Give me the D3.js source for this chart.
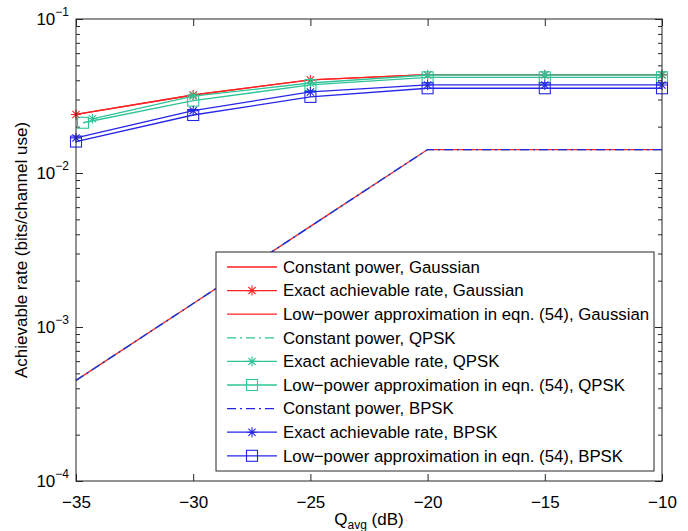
<!DOCTYPE html>
<html><head><meta charset="utf-8">
<script src="https://cdn.jsdelivr.net/npm/d3@7"></script>
<style>
html,body{margin:0;padding:0;background:#fff;}
svg{display:block;font-family:"Liberation Sans",Arial,Helvetica,sans-serif;}
</style></head>
<body><svg id="chart" width="688" height="531"></svg>
<script>
// ---- data ----
const qAvg = [-35, -30, -25, -20, -15, -10];
const qAvgQpskExact = [-34.3, -30, -25, -20, -15, -10];
const qAvgQpskApprox = [-34.7, -30, -25, -20, -15, -10];
const constGauss  = [0.00045, 0.00142, 0.0045, 0.0142, 0.0142, 0.0142];
const exactGauss  = [0.0240, 0.0321, 0.0402, 0.0435, 0.0435, 0.0435];
const approxGauss = [0.0240, 0.0321, 0.0402, 0.0435, 0.0435, 0.0435];
const constQpsk   = [0.00045, 0.00142, 0.0045, 0.0142, 0.0142, 0.0142];
const exactQpsk   = [0.0225, 0.0316, 0.0384, 0.0433, 0.0433, 0.0433];
const approxQpsk  = [0.0212, 0.0295, 0.0373, 0.0418, 0.0418, 0.0418];
const constBpsk   = [0.00045, 0.00142, 0.0045, 0.0142, 0.0142, 0.0142];
const exactBpsk   = [0.0169, 0.0254, 0.0336, 0.0373, 0.0373, 0.0373];
const approxBpsk  = [0.0160, 0.0238, 0.0312, 0.0355, 0.0355, 0.0355];
const xTicks = [-35, -30, -25, -20, -15, -10];
const yTicks = [1e-4, 1e-3, 1e-2, 1e-1];
const yTickExponents = ["\u22124", "\u22123", "\u22122", "\u22121"];
const legendLabels = [
  "Constant power, Gaussian",
  "Exact achievable rate, Gaussian",
  "Low\u2212power approximation in eqn. (54), Gaussian",
  "Constant power, QPSK",
  "Exact achievable rate, QPSK",
  "Low\u2212power approximation in eqn. (54), QPSK",
  "Constant power, BPSK",
  "Exact achievable rate, BPSK",
  "Low\u2212power approximation in eqn. (54), BPSK"
];

// ---- styles ----
const RED = "#ff2222", GREEN = "#2ec497", BLUE = "#2626e8";
const DASHDOT = "9,4,2,4";
const series = [
  {xs: qAvg, ys: constGauss, color: RED, dash: null, marker: null},
  {xs: qAvg, ys: exactGauss, color: RED, dash: null, marker: "star"},
  {xs: qAvg, ys: approxGauss, color: RED, dash: null, marker: null},
  {xs: qAvg, ys: constQpsk, color: GREEN, dash: DASHDOT, marker: null},
  {xs: qAvgQpskExact, ys: exactQpsk, color: GREEN, dash: null, marker: "star"},
  {xs: qAvgQpskApprox, ys: approxQpsk, color: GREEN, dash: null, marker: "square"},
  {xs: qAvg, ys: constBpsk, color: BLUE, dash: DASHDOT, marker: null},
  {xs: qAvg, ys: exactBpsk, color: BLUE, dash: null, marker: "star"},
  {xs: qAvg, ys: approxBpsk, color: BLUE, dash: null, marker: "square"}
];

const L = 76, R = 662, T = 19, B = 481;
const svg = d3.select("#chart");
svg.append("rect").attr("width", 688).attr("height", 531).attr("fill", "#fff");

const x = d3.scaleLinear().domain([-35, -10]).range([L, R]);
const y = d3.scaleLog().domain([1e-4, 1e-1]).range([B, T]);

const minorTicks = [];
for (let e = -4; e < -1; e++) for (let k = 2; k <= 9; k++) minorTicks.push(k * Math.pow(10, e));

const AX = "#262626";
function styleAxis(g) {
  g.select(".domain").remove();
  g.selectAll(".tick line").attr("stroke", AX).attr("stroke-width", 1);
}
// minor y ticks
svg.append("g").attr("transform", `translate(${L},0)`)
  .call(d3.axisLeft(y).tickValues(minorTicks).tickSize(-4).tickFormat(""))
  .call(styleAxis);
svg.append("g").attr("transform", `translate(${R},0)`)
  .call(d3.axisRight(y).tickValues(minorTicks).tickSize(-4).tickFormat(""))
  .call(styleAxis);
// major y ticks
const yAx = svg.append("g").attr("transform", `translate(${L},0)`)
  .call(d3.axisLeft(y).tickValues(yTicks).tickSize(-7).tickFormat(""))
  .call(styleAxis);
yAx.selectAll(".tick").each(function(d, i) {
  const t = d3.select(this).select("text");
  t.attr("fill", "#000").attr("font-size", 17).attr("text-anchor", "end")
   .attr("x", -7).attr("dy", "0.32em");
  t.text(null);
  t.append("tspan").text("10");
  t.append("tspan").attr("font-size", 12).attr("dy", "-0.75em").text(yTickExponents[i]);
});
svg.append("g").attr("transform", `translate(${R},0)`)
  .call(d3.axisRight(y).tickValues(yTicks).tickSize(-7).tickFormat(""))
  .call(styleAxis);
// x ticks
svg.append("g").attr("transform", `translate(0,${B})`)
  .call(d3.axisBottom(x).tickValues(xTicks).tickSize(-7).tickPadding(15)
        .tickFormat(d => d < 0 ? "\u2212" + Math.abs(d) : String(d)))
  .call(styleAxis)
  .call(g => g.selectAll("text").attr("fill", "#000").attr("font-size", 17));
svg.append("g").attr("transform", `translate(0,${T})`)
  .call(d3.axisTop(x).tickValues(xTicks).tickSize(-7).tickFormat(""))
  .call(styleAxis);

// data lines
const line = d3.line().x(d => x(d[0])).y(d => y(d[1]));
const starPath = "M-5,0L5,0M0,-5L0,5M-3.6,-3.6L3.6,3.6M-3.6,3.6L3.6,-3.6";
function drawMarker(g, type, color, cx, cy) {
  if (type === "star") {
    g.append("path").attr("d", starPath).attr("transform", `translate(${cx},${cy})`)
      .attr("stroke", color).attr("stroke-width", 1.1).attr("fill", "none");
  } else if (type === "square") {
    g.append("rect").attr("x", cx - 5.5).attr("y", cy - 5.5).attr("width", 11).attr("height", 11)
      .attr("stroke", color).attr("stroke-width", 1.1).attr("fill", "none");
  }
}
const plot = svg.append("g");
series.forEach(s => {
  const pts = s.xs.map((v, i) => [v, s.ys[i]]);
  plot.append("path").datum(pts).attr("d", line)
    .attr("fill", "none").attr("stroke", s.color).attr("stroke-width", 1.3)
    .attr("stroke-dasharray", s.dash);
  if (s.marker) pts.forEach(p => drawMarker(plot, s.marker, s.color, x(p[0]), y(p[1])));
});

// frame
svg.append("rect").attr("x", L).attr("y", T).attr("width", R - L).attr("height", B - T)
  .attr("fill", "none").attr("stroke", AX).attr("stroke-width", 1);

// legend
const lg = svg.append("g");
lg.append("rect").attr("x", 216).attr("y", 252).attr("width", 438).attr("height", 219)
  .attr("fill", "#fff").attr("stroke", AX).attr("stroke-width", 1);
legendLabels.forEach((lab, i) => {
  const s = series[i];
  const ry = 267 + i * 23.6;
  lg.append("line").attr("x1", 227).attr("x2", 277).attr("y1", ry).attr("y2", ry)
    .attr("stroke", s.color).attr("stroke-width", 1.3).attr("stroke-dasharray", s.dash);
  if (s.marker) drawMarker(lg, s.marker, s.color, 252, ry);
  lg.append("text").attr("x", 283).attr("y", ry).attr("dy", "0.35em")
    .attr("font-size", 16.8).attr("fill", "#000").text(lab);
});

// axis labels
const xl = svg.append("text").attr("x", (L + R) / 2).attr("y", 525)
  .attr("text-anchor", "middle").attr("font-size", 17).attr("fill", "#000");
xl.append("tspan").text("Q");
xl.append("tspan").attr("font-size", 12).attr("dy", 4).text("avg");
xl.append("tspan").attr("dy", -4).text(" (dB)");
svg.append("text").attr("transform", `translate(27,${(T + B) / 2}) rotate(-90)`)
  .attr("text-anchor", "middle").attr("font-size", 17).attr("fill", "#000")
  .text("Achievable rate (bits/channel use)");
</script></body></html>
